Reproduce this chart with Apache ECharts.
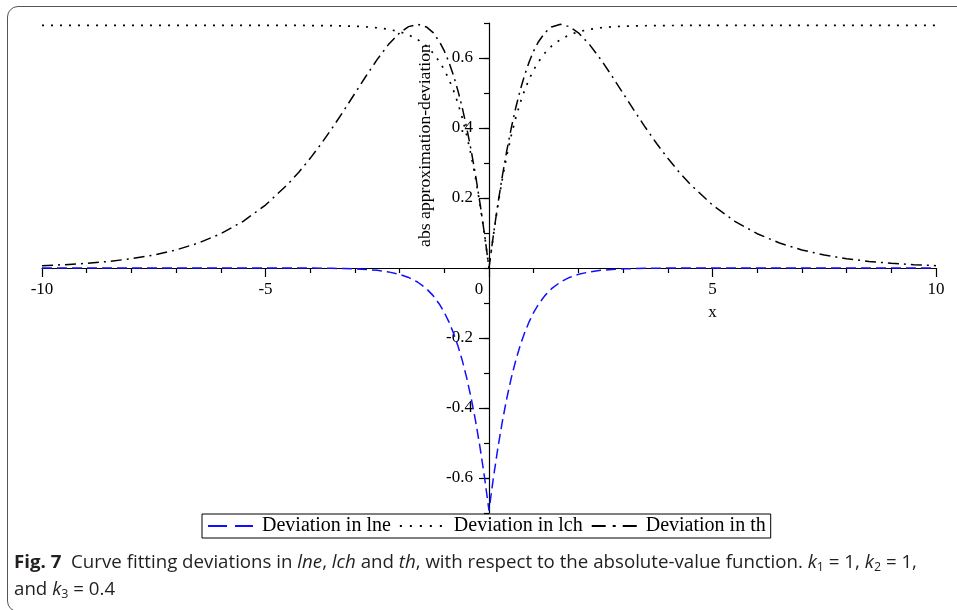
<!DOCTYPE html>
<html>
<head>
<meta charset="utf-8">
<script src="https://cdn.jsdelivr.net/npm/echarts@6/dist/echarts.min.js"></script>
<style>
  html, body { margin: 0; padding: 0; background: #fff; width: 957px; height: 610px; overflow: hidden; }
  #frame { position: absolute; left: 7px; top: 6px; width: 1000px; height: 606px; border: 1.5px solid #555;
           border-radius: 11px; box-sizing: border-box; }
  #chart { position: absolute; left: 0; top: 0; width: 957px; height: 610px; }
  #caption { position: absolute; left: 14px; top: 548px; font-family: "Open Sans", sans-serif; font-size: 18px;
             line-height: 27px; color: #231f20; white-space: nowrap; transform-origin: 0 0; }
  #caption b { font-weight: 700; }
  #caption sub { font-size: 12px; vertical-align: -3px; line-height: 0; }
  #caption span { display: inline-block; }
</style>
</head>
<body>
<div id="frame"></div>
<div id="chart"></div>
<div id="caption"><span id="capLine1"><b>Fig. 7</b>&nbsp; Curve fitting deviations in <i>lne</i>, <i>lch</i> and <i>th</i>, with respect to the absolute-value function. <i>k</i><sub>1</sub> = 1, <i>k</i><sub>2</sub> = 1,</span><br><span>and <i>k</i><sub>3</sub> = 0.4</span></div>
<script>
// Sample abscissae
const xs = [-10, -9.5, -9, -8.5, -8, -7.5, -7, -6.5, -6, -5.5, -5, -4.5, -4.25, -4, -3.75, -3.5, -3.25, -3,
  -2.75, -2.5, -2.25, -2, -1.8, -1.6, -1.4, -1.25, -1.1, -1, -0.9, -0.8, -0.7, -0.6, -0.5, -0.4, -0.3, -0.2,
  -0.1, 0, 0.1, 0.2, 0.3, 0.4, 0.5, 0.6, 0.7, 0.8, 0.9, 1, 1.1, 1.25, 1.4, 1.6, 1.8, 2, 2.25, 2.5, 2.75, 3,
  3.25, 3.5, 3.75, 4, 4.25, 4.5, 5, 5.5, 6, 6.5, 7, 7.5, 8, 8.5, 9, 9.5, 10];

// Deviation in lne
const lneDev = [0, 0, 0, 0, 0, 0, 0, 0, 0, 0, 0, -0.0001, -0.0002, -0.0003, -0.0006, -0.0009, -0.0015, -0.0025,
  -0.0041, -0.0067, -0.0111, -0.0181, -0.0270, -0.0400, -0.0590, -0.0789, -0.1051, -0.1269, -0.1530, -0.1839,
  -0.2204, -0.2633, -0.3133, -0.3711, -0.4375, -0.5130, -0.5981, -0.6931, -0.5981, -0.5130, -0.4375, -0.3711,
  -0.3133, -0.2633, -0.2204, -0.1839, -0.1530, -0.1269, -0.1051, -0.0789, -0.0590, -0.0400, -0.0270, -0.0181,
  -0.0111, -0.0067, -0.0041, -0.0025, -0.0015, -0.0009, -0.0006, -0.0003, -0.0002, -0.0001, 0, 0, 0, 0, 0, 0,
  0, 0, 0, 0, 0];

// Deviation in lch
const lchDev = [0.6931, 0.6931, 0.6931, 0.6931, 0.6931, 0.6931, 0.6931, 0.6931, 0.6931, 0.6931, 0.6931, 0.6930,
  0.6930, 0.6928, 0.6926, 0.6922, 0.6916, 0.6907, 0.6891, 0.6864, 0.6821, 0.6750, 0.6662, 0.6532, 0.6341,
  0.6143, 0.5881, 0.5662, 0.5402, 0.5093, 0.4727, 0.4299, 0.3799, 0.3220, 0.2557, 0.1801, 0.0950, 0, 0.0950,
  0.1801, 0.2557, 0.3220, 0.3799, 0.4299, 0.4727, 0.5093, 0.5402, 0.5662, 0.5881, 0.6143, 0.6341, 0.6532,
  0.6662, 0.6750, 0.6821, 0.6864, 0.6891, 0.6907, 0.6916, 0.6922, 0.6926, 0.6928, 0.6930, 0.6930, 0.6931,
  0.6931, 0.6931, 0.6931, 0.6931, 0.6931, 0.6931, 0.6931, 0.6931, 0.6931, 0.6931];

// Deviation in th
const thDev = [0.0067, 0.0095, 0.0134, 0.0189, 0.0265, 0.0371, 0.0516, 0.0713, 0.0980, 0.1334, 0.1799, 0.2394,
  0.2745, 0.3133, 0.3557, 0.4013, 0.4494, 0.4990, 0.5486, 0.5960, 0.6383, 0.6719, 0.6896, 0.6962, 0.6888,
  0.6724, 0.6450, 0.6201, 0.5893, 0.5524, 0.5090, 0.4587, 0.4013, 0.3365, 0.2642, 0.1840, 0.0960, 0, 0.0960,
  0.1840, 0.2642, 0.3365, 0.4013, 0.4587, 0.5090, 0.5524, 0.5893, 0.6201, 0.6450, 0.6724, 0.6888, 0.6962,
  0.6896, 0.6719, 0.6383, 0.5960, 0.5486, 0.4990, 0.4494, 0.4013, 0.3557, 0.3133, 0.2745, 0.2394, 0.1799,
  0.1334, 0.0980, 0.0713, 0.0516, 0.0371, 0.0265, 0.0189, 0.0134, 0.0095, 0.0067];

const seriesNames = ['Deviation in lne', 'Deviation in lch', 'Deviation in th'];
const xLabelValues = [-10, -5, 0, 5, 10];
const yLabelValues = [-0.6, -0.4, -0.2, 0.2, 0.4, 0.6];
const xAxisTitle = 'x';
const yAxisTitle = 'abs approximation-deviation';

const serif = 'Liberation Serif';
const labelFont = '17px "Liberation Serif"';
const plotRect = { left: 42, right: 21, top: 23, bottom: 97 };
const pairs = ys => xs.map((x, i) => [x, ys[i]]);

const chart = echarts.init(document.getElementById('chart'), null, { renderer: 'canvas' });

chart.setOption({
  animation: false,
  backgroundColor: 'transparent',
  grid: [Object.assign({}, plotRect), Object.assign({}, plotRect)],
  xAxis: [
    {
      type: 'value', gridIndex: 0, min: -10, max: 10, interval: 5,
      axisLine: { onZero: true, lineStyle: { color: '#000', width: 1.2 } },
      axisTick: { length: 9, lineStyle: { color: '#000', width: 1.2 } },
      minorTick: { show: true, splitNumber: 5, length: 5, lineStyle: { color: '#000', width: 1.2 } },
      splitLine: { show: false },
      axisLabel: { show: false }
    },
    { type: 'value', gridIndex: 1, min: -10, max: 10, show: false }
  ],
  yAxis: [
    {
      type: 'value', gridIndex: 0, min: -0.7, max: 0.7, interval: 0.1,
      axisLine: { onZero: true, lineStyle: { color: '#000', width: 1.2 } },
      axisTick: { length: 5, lineStyle: { color: '#000', width: 1.2 } },
      splitLine: { show: false },
      axisLabel: { show: false }
    },
    {
      // longer ticks at the labelled values
      type: 'value', gridIndex: 1, min: -0.7, max: 0.7,
      axisLine: { show: false, onZero: true },
      axisTick: { show: true, customValues: yLabelValues, length: 10, lineStyle: { color: '#000', width: 1.2 } },
      axisLabel: { show: false },
      splitLine: { show: false }
    }
  ],
  legend: {
    left: 202, top: 514, itemWidth: 45, itemHeight: 12, itemGap: 8,
    padding: [2, 5, 2, 5], borderColor: '#000', borderWidth: 1, selectedMode: false,
    itemStyle: { opacity: 0 },
    textStyle: { fontFamily: serif, fontSize: 20, color: '#000', padding: [0, 0, 0, 4] },
    data: [
      { name: seriesNames[0], lineStyle: { type: [19, 8] } },
      { name: seriesNames[1], lineStyle: { type: [2, 8] } },
      { name: seriesNames[2], lineStyle: { type: [14, 7, 3, 7] } }
    ]
  },
  series: [
    {
      name: seriesNames[0], type: 'line', xAxisIndex: 0, yAxisIndex: 0, data: pairs(lneDev),
      symbol: 'none', itemStyle: { color: '#1010ff' },
      lineStyle: { color: '#1010ff', width: 1.5, type: [10, 5] }
    },
    {
      name: seriesNames[1], type: 'line', xAxisIndex: 0, yAxisIndex: 0, data: pairs(lchDev),
      symbol: 'none', itemStyle: { color: '#000' },
      lineStyle: { color: '#000', width: 1.7, type: [2, 7] }
    },
    {
      name: seriesNames[2], type: 'line', xAxisIndex: 0, yAxisIndex: 0, data: pairs(thDev),
      symbol: 'none', itemStyle: { color: '#000' },
      lineStyle: { color: '#000', width: 1.5, type: [11, 5, 2, 5] }
    }
  ]
});

// tick labels and axis titles, positioned from the axis scales
const toPx = (x, y) => chart.convertToPixel({ xAxisIndex: 0, yAxisIndex: 0 }, [x, y]);
const texts = [];
xLabelValues.forEach(v => {
  const p = toPx(v, 0);
  texts.push({
    type: 'text', x: p[0] + (v === 0 ? -10 : 0), y: p[1] + 22,
    style: { text: String(v), font: labelFont, fill: '#000', align: 'center', verticalAlign: 'middle' }
  });
});
yLabelValues.forEach(v => {
  const p = toPx(0, v);
  texts.push({
    type: 'text', x: p[0] - 16, y: p[1],
    style: { text: v.toFixed(1), font: labelFont, fill: '#000', align: 'right', verticalAlign: 'middle' }
  });
});
const atFive = toPx(5, 0);
texts.push({
  type: 'text', x: atFive[0], y: atFive[1] + 45,
  style: { text: xAxisTitle, font: labelFont, fill: '#000', align: 'center', verticalAlign: 'middle' }
});
const nameAnchor = toPx(0, 0.35);
texts.push({
  type: 'text', x: nameAnchor[0] - 64, y: nameAnchor[1], rotation: Math.PI / 2,
  style: { text: yAxisTitle, font: '17.7px "Liberation Serif"', fill: '#000', align: 'center', verticalAlign: 'middle' }
});
chart.setOption({ graphic: texts });

// fit the first caption line to the figure width
const cap = document.getElementById('caption');
const line1 = document.getElementById('capLine1');
const fit = () => {
  const w = line1.offsetWidth;
  if (w > 0) cap.style.transform = 'scaleX(' + (903 / w) + ')';
};
fit();
if (document.fonts && document.fonts.ready) document.fonts.ready.then(fit);
</script>
</body>
</html>
